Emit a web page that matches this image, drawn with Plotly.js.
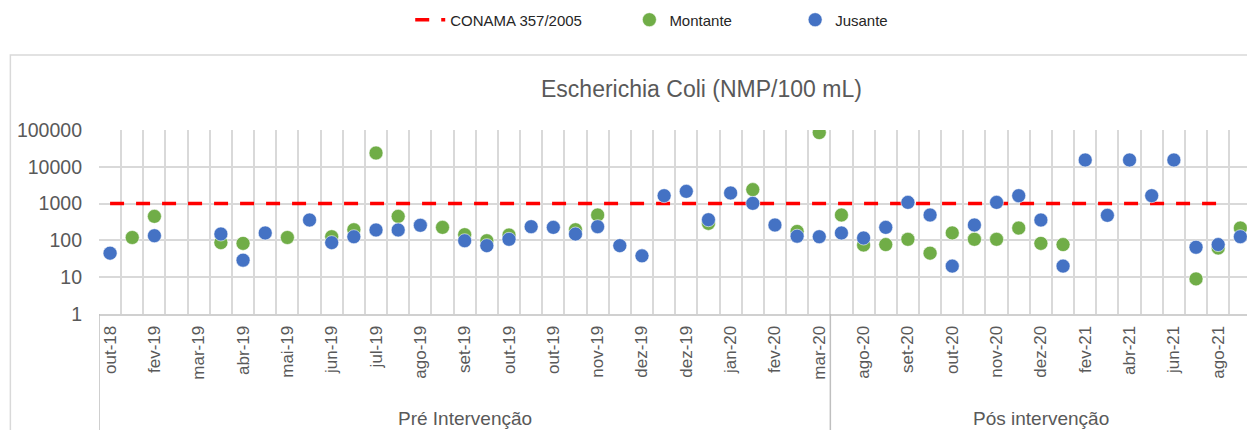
<!DOCTYPE html>
<html><head><meta charset="utf-8">
<script src="https://cdn.plot.ly/plotly-3.0.1.min.js"></script>
<style>html,body{margin:0;padding:0;background:#fff;overflow:hidden}</style>
</head><body><div id="chart" style="width:1247px;height:430px"></div>
<script>
// Category labels (Excel shows every second label)
const categories = [
  "out-18","", "fev-19","", "mar-19","", "abr-19","", "mai-19","",
  "jun-19","", "jul-19","", "ago-19","", "set-19","", "out-19","",
  "out-19","", "nov-19","", "dez-19","", "dez-19","", "jan-20","",
  "fev-20","", "mar-20","", "ago-20","", "set-20","", "out-20","",
  "nov-20","", "dez-20","", "fev-21","", "abr-21","", "jun-21","",
  "ago-21",""
];
const groupLabels = ["Pré Intervenção", "Pós intervenção"];
const groupSizes = [33, 19];

const montante = [
  null, 120, 450, null, null, 87, 83, null, 120, null,
  126, 195, 23700, 450, null, 226, 143, 98, 140, null,
  null, 195, 490, null, null, null, null, 290, null, 2400,
  null, 175, 85000, 490, 75, 77, 107, 45, 160, 107,
  107, 217, 83, 77, null, null, null, null, null, 9,
  62, 217
];
const jusante = [
  45, null, 134, null, null, 149, 29, 159, null, 358,
  87, 126, 192, 192, 257, null, 98, 72, 107, 236,
  226, 149, 236, 72, 38, 1640, 2150, 365, 1940, 1016,
  262, 130, 126, 159, 116, 226, 1080, 490, 20, 262,
  1080, 1640, 358, 20, 15300, 480, 15300, 1640, 15300, 65,
  77, 126
];
const conama = [
  1000, 1000, 1000, 1000, 1000, 1000, 1000, 1000, 1000, 1000,
  1000, 1000, 1000, 1000, 1000, 1000, 1000, 1000, 1000, 1000,
  1000, 1000, 1000, 1000, 1000, 1000, 1000, 1000, 1000, 1000,
  1000, 1000, 1000, 1000, 1000, 1000, 1000, 1000, 1000, 1000,
  1000, 1000, 1000, 1000, 1000, 1000, 1000, 1000, 1000, 1000,
  1000, null
];
const yTicks = [1, 10, 100, 1000, 10000, 100000];
const yTickText = ["1", "10", "100", "1000", "10000", "100000"];

const xIdx = categories.map((c, i) => i);
const tickvals = xIdx.filter(i => categories[i] !== "");
const ticktext = tickvals.map(i => categories[i]);
const boundaries = categories.map((c, i) => i - 0.5);

const FONT = "Liberation Sans, Arial, sans-serif";
const GRID = "#D9D9D9";
const TXT = "#595959";

const traces = [
  {x: xIdx, y: conama, name: "CONAMA 357/2005", type: "scatter", mode: "lines",
   line: {color: "#FF0000", width: 3.5, dash: "14px,12px"}, legend: "legend", hoverinfo: "skip"},
  {x: xIdx, y: montante, name: "Montante", type: "scatter", mode: "markers",
   marker: {color: "#70AD47", size: 14, line: {color: "rgba(255,255,255,0.7)", width: 0.8}}, legend: "legend2"},
  {x: xIdx, y: jusante, name: "Jusante", type: "scatter", mode: "markers",
   marker: {color: "#4472C4", size: 14, line: {color: "rgba(255,255,255,0.7)", width: 0.8}}, legend: "legend3"}
];

// group separators and labels
const shapes = [];
const annotations = [];
let start = 0;
shapes.push({type: "line", xref: "x", yref: "paper", x0: -0.5, x1: -0.5, y0: 0, y1: -0.64,
             line: {color: "#BFBFBF", width: 1.5}});
groupSizes.forEach((n, g) => {
  const end = start + n - 1;
  shapes.push({type: "line", xref: "x", yref: "paper", x0: end + 0.5, x1: end + 0.5, y0: 0, y1: -0.64,
               line: {color: "#BFBFBF", width: 1.5}});
  annotations.push({xref: "x", yref: "paper", x: (start + end) / 2, y: -0.57, yanchor: "middle",
                    text: groupLabels[g], showarrow: false, font: {family: FONT, size: 19, color: TXT}});
  start += n;
});
// outer chart-area border (top and left)
shapes.push({type: "path", xref: "paper", yref: "paper",
             path: "M -0.0772 -0.7 L -0.0772 1.4076 L 1.01 1.4076",
             line: {color: "#D9D9D9", width: 1.5}});

const legendBase = {orientation: "h", yref: "paper", y: 1.598, yanchor: "middle", xanchor: "left",
                    bgcolor: "rgba(0,0,0,0)", font: {family: FONT, size: 15, color: "#262626"}};

const layout = {
  width: 1247, height: 430,
  margin: {l: 99, r: 0, t: 130, b: 116, pad: 0},
  paper_bgcolor: "#ffffff", plot_bgcolor: "#ffffff",
  title: {text: "Escherichia Coli (NMP/100 mL)", x: 0.5625, xanchor: "center", y: 0.792, yanchor: "middle",
          font: {family: FONT, size: 23, color: TXT}},
  xaxis: {range: [-0.5, 51.3], tickmode: "array", tickvals: tickvals, ticktext: ticktext, tickangle: -90,
          showgrid: false, zeroline: false, showline: true, linecolor: "#D0D0D0", linewidth: 2,
          ticks: "", ticklabelstandoff: 3,
          tickfont: {family: FONT, size: 17, color: TXT}},
  yaxis: {type: "log", range: [0, 5], tickmode: "array", tickvals: yTicks, ticktext: yTickText,
          showgrid: true, gridcolor: GRID, gridwidth: 2, zeroline: false, showline: false,
          ticks: "", ticklabelstandoff: 16,
          tickfont: {family: FONT, size: 19.5, color: TXT}},
  legend: Object.assign({}, legendBase, {x: 0.2711}),
  legend2: Object.assign({}, legendBase, {x: 0.4620}),
  legend3: Object.assign({}, legendBase, {x: 0.6064}),
  shapes: shapes,
  annotations: annotations,
  showlegend: true
};
layout.xaxis.minor = {tickmode: "array", tickvals: boundaries, showgrid: true, gridcolor: GRID, gridwidth: 2, ticks: ""};

Plotly.newPlot("chart", traces, layout, {displayModeBar: false, responsive: false});
</script>
</body></html>
